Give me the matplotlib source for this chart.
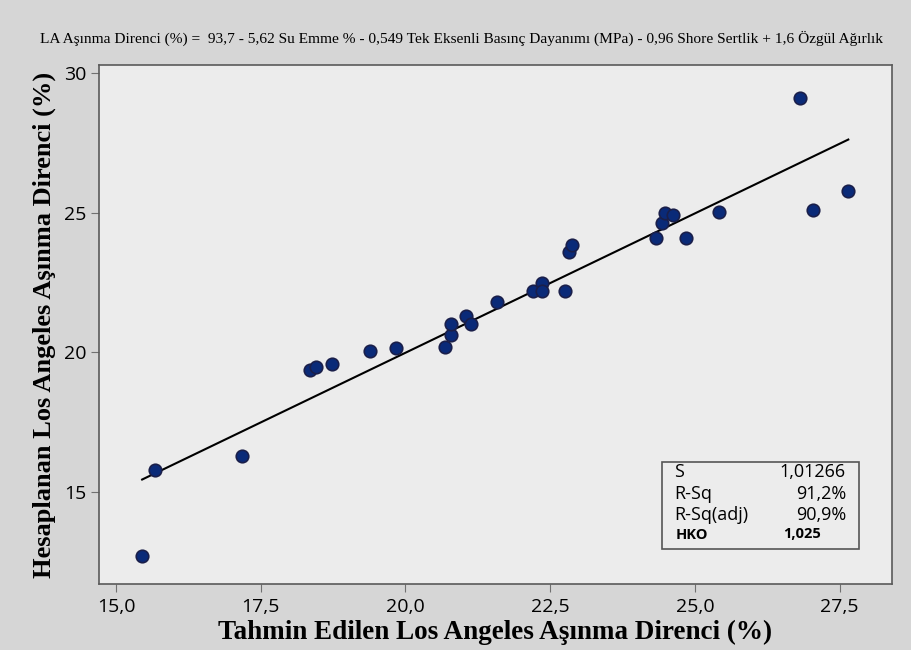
import numpy as np
import matplotlib
matplotlib.use("Agg")
import matplotlib.pyplot as plt

# Predicted (x) vs computed (y) LA abrasion values
tahmin = [15.45, 15.67, 17.18, 18.35, 18.45, 18.73, 19.39, 19.83, 20.68, 20.79,
          20.79, 21.04, 21.13, 21.58, 22.21, 22.35, 22.35, 22.75, 22.83, 22.87,
          24.33, 24.44, 24.48, 24.63, 24.84, 25.41, 26.81, 27.04, 27.65]
hesap = [12.71, 15.79, 16.30, 19.37, 19.48, 19.57, 20.06, 20.14, 20.20, 20.62,
         21.01, 21.30, 21.01, 21.79, 22.19, 22.47, 22.19, 22.19, 23.59, 23.84,
         24.10, 24.64, 25.00, 24.94, 24.10, 25.03, 29.12, 25.09, 25.79]

x_ticks = [15.0, 17.5, 20.0, 22.5, 25.0, 27.5]
y_ticks = [15, 20, 25, 30]

stat_names = ["S", "R-Sq", "R-Sq(adj)"]
stat_vals = ["1,01266", "91,2%", "90,9%"]
hko_name = "HKO"
hko_val = "1,025"

baslik = ("LA Aşınma Direnci (%) =  93,7 - 5,62 Su Emme % - 0,549 Tek Eksenli Basınç "
          "Dayanımı (MPa) - 0,96 Shore Sertlik + 1,6 Özgül Ağırlık")

fig = plt.figure(figsize=(9.12, 6.5), dpi=100, facecolor="#d6d6d6")
ax = fig.add_axes([99.3 / 912, 66 / 650, (891.7 - 99.3) / 912, (584 - 65) / 650])
ax.set_facecolor("#ececec")

# fitted regression line
b, a = np.polyfit(tahmin, hesap, 1)
xs = np.array([min(tahmin), max(tahmin)])
ax.plot(xs, a + b * xs, color="black", lw=1.5, zorder=2)

ax.plot(tahmin, hesap, "o", ms=9, mfc="#0a2a78", mec="#1a1f4a", mew=1.2, zorder=3)

ax.set_xlim(14.71, 28.40)
ax.set_ylim(11.70, 30.30)
ax.set_xticks(x_ticks)
ax.set_xticklabels([f"{t:.1f}".replace(".", ",") for t in x_ticks])
ax.set_yticks(y_ticks)
ax.set_yticklabels([str(t) for t in y_ticks])
ax.tick_params(direction="out", length=6, color="#707070", labelsize=14,
               pad=3)
ax.tick_params(axis="x", pad=4)
for lab in ax.get_xticklabels() + ax.get_yticklabels():
    lab.set_family("Open Sans")
for sp in ax.spines.values():
    sp.set_color("#5a5a5a")
    sp.set_linewidth(1.2)

ax.set_xlabel("Tahmin Edilen Los Angeles Aşınma Direnci (%)", family="Liberation Serif",
              fontweight="bold", fontsize=19.5, labelpad=3)
ax.set_ylabel("Hesaplanan Los Angeles Aşınma Direnci (%)", family="Liberation Serif",
              fontweight="bold", fontsize=19, labelpad=6)

fig.text(462 / 912, 1 - 38 / 650, baslik, family="Liberation Serif", fontsize=11.1,
         ha="center", va="center")

# stats box
box = plt.Rectangle((661.7 / 912, 1 - 549.3 / 650), (859.3 - 661.7) / 912, (549.3 - 461.7) / 650,
                    transform=fig.transFigure, facecolor="#ececec", edgecolor="#555555", lw=1.2)
fig.patches.append(box)
rows_y = [472, 494, 515]
for nm, val, yy in zip(stat_names, stat_vals, rows_y):
    fig.text(674 / 912, 1 - yy / 650, nm, family="Open Sans", fontsize=13, va="center")
    fig.text(846 / 912, 1 - yy / 650, val, family="Open Sans", fontsize=13, va="center", ha="right")
fig.text(676 / 912, 1 - 535 / 650, hko_name, family="Open Sans", fontsize=10.5, fontweight="bold", va="center")
fig.text(821 / 912, 1 - 534 / 650, hko_val, family="Open Sans", fontsize=10.5, fontweight="bold", va="center", ha="right")

fig.savefig("out.png", dpi=100, facecolor=fig.get_facecolor())
